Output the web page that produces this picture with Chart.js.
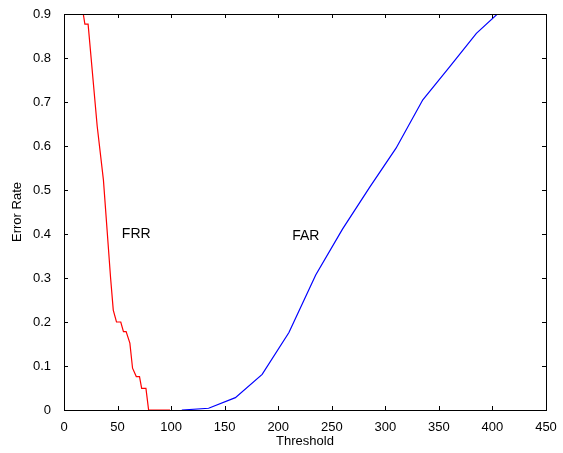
<!DOCTYPE html>
<html>
<head>
<meta charset="utf-8">
<script src="https://cdn.jsdelivr.net/npm/chart.js@4"></script>
<style>
  html, body { margin: 0; padding: 0; background: #fff; }
  #wrap { width: 563px; height: 453px; }
</style>
</head>
<body>
<div id="wrap"><canvas id="errChart" width="563" height="453"></canvas></div>
<script>
// FRR curve (threshold, error rate)
const frrX = [18, 19.5, 22.5, 31, 36.8, 43.5, 46, 49, 53, 55.5, 58, 61.5, 64, 67.5, 70.5, 72.5, 76.5, 79, 99];
const frrY = [0.9, 0.877, 0.877, 0.645, 0.523, 0.3, 0.227, 0.2, 0.2, 0.178, 0.178, 0.152, 0.095, 0.076, 0.076, 0.049, 0.049, 0, 0];

// FAR curve
const farX = [110, 135, 160, 185, 210, 235, 260, 285, 310, 335, 360, 385, 410];
const farY = [0, 0.004, 0.028, 0.081, 0.176, 0.307, 0.411, 0.505, 0.595, 0.705, 0.78, 0.856, 0.912];

const xTicks = [0, 50, 100, 150, 200, 250, 300, 350, 400, 450];
const yTicks = [0, 0.1, 0.2, 0.3, 0.4, 0.5, 0.6, 0.7, 0.8, 0.9];

// curve labels placed in data coords
const curveLabels = [
  { text: "FRR", x: 54, y: 0.399 },
  { text: "FAR", x: 213, y: 0.394 }
];

const FONT = "'Liberation Sans', Arial, sans-serif";

function toPoints(xs, ys) {
  return xs.map((x, i) => ({ x: x, y: ys[i] }));
}

// matlab style box with inward ticks on all four sides
const boxPlugin = {
  id: "box",
  afterDraw(chart) {
    const ctx = chart.ctx;
    const a = chart.chartArea;
    const xs = chart.scales.x, ys = chart.scales.y;
    ctx.save();
    ctx.strokeStyle = "#000";
    ctx.lineWidth = 1;
    ctx.strokeRect(a.left + 0.5, a.top + 0.5, a.right - a.left, a.bottom - a.top);
    ctx.beginPath();
    xTicks.forEach(v => {
      const px = Math.round(xs.getPixelForValue(v)) + 0.5;
      ctx.moveTo(px, a.bottom); ctx.lineTo(px, a.bottom - 4);
      ctx.moveTo(px, a.top); ctx.lineTo(px, a.top + 4);
    });
    yTicks.forEach(v => {
      const py = Math.round(ys.getPixelForValue(v)) + 0.5;
      ctx.moveTo(a.left, py); ctx.lineTo(a.left + 4, py);
      ctx.moveTo(a.right, py); ctx.lineTo(a.right - 4, py);
    });
    ctx.stroke();

    ctx.fillStyle = "#000";
    ctx.font = "14px " + FONT;
    ctx.textAlign = "left";
    ctx.textBaseline = "middle";
    curveLabels.forEach(l => {
      ctx.fillText(l.text, xs.getPixelForValue(l.x), ys.getPixelForValue(l.y));
    });
    ctx.restore();
  }
};

new Chart(document.getElementById("errChart"), {
  type: "scatter",
  data: {
    datasets: [
      {
        label: "FRR",
        data: toPoints(frrX, frrY),
        showLine: true,
        borderColor: "#ff0000",
        borderWidth: 1.2,
        pointRadius: 0,
        tension: 0
      },
      {
        label: "FAR",
        data: toPoints(farX, farY),
        showLine: true,
        borderColor: "#0000ff",
        borderWidth: 1.2,
        pointRadius: 0,
        tension: 0
      }
    ]
  },
  options: {
    responsive: false,
    animation: false,
    layout: { padding: { left: 0, right: 17, top: 14, bottom: 0 } },
    plugins: {
      legend: { display: false },
      tooltip: { enabled: false }
    },
    scales: {
      x: {
        type: "linear",
        min: 0,
        max: 450,
        afterBuildTicks: s => { s.ticks = xTicks.map(v => ({ value: v })); },
        grid: { display: false },
        border: { display: false },
        ticks: { color: "#000", font: { family: FONT, size: 13 }, padding: 2, maxRotation: 0 },
        title: { display: true, text: "Threshold", color: "#000", font: { family: FONT, size: 13 }, padding: { top: 0 } },
        afterFit: s => { s.height = 43; }
      },
      y: {
        type: "linear",
        min: 0,
        max: 0.9,
        afterBuildTicks: s => { s.ticks = yTicks.map(v => ({ value: v })); },
        grid: { display: false },
        border: { display: false },
        ticks: {
          color: "#000",
          font: { family: FONT, size: 13 },
          padding: 5,
          callback: v => v === 0 ? "0" : v.toFixed(1)
        },
        title: { display: true, text: "Error Rate", color: "#000", font: { family: FONT, size: 13 }, padding: { top: 10, bottom: 4 } },
        afterFit: s => { s.width = 64; }
      }
    }
  },
  plugins: [boxPlugin]
});
</script>
</body>
</html>
